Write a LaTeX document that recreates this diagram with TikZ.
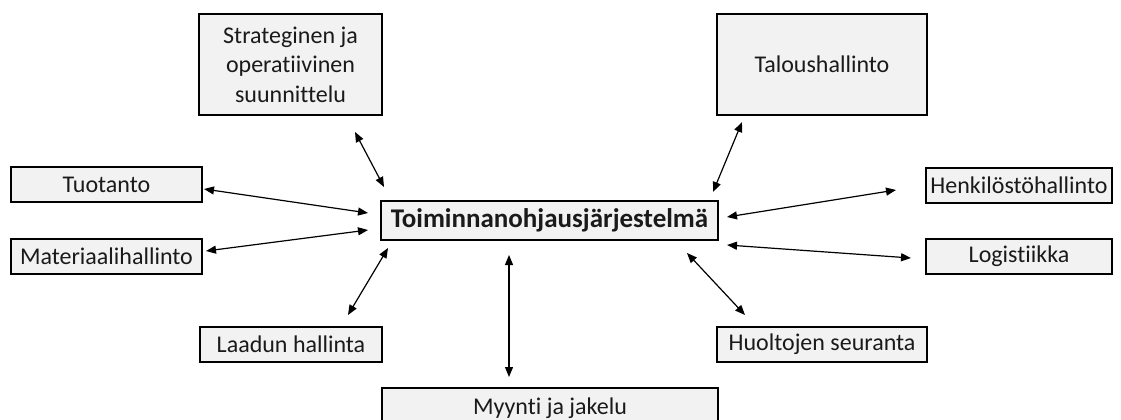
\documentclass[tikz,border=0pt]{standalone}
\usepackage{fontspec}
\setmainfont[Ligatures={NoCommon,NoContextual},Contextuals=NoAlternate]{Carlito}
\usetikzlibrary{arrows.meta}
\definecolor{boxfill}{HTML}{F2F2F2}
\definecolor{ink}{HTML}{1A1A1A}
\begin{document}
\begin{tikzpicture}[x=1pt,y=-1pt,
  box/.style={draw=black,line width=2pt,fill=boxfill,inner sep=0pt,
    font=\fontsize{24}{29.5}\selectfont,text=ink,align=center},
  link/.style={line width=1.2pt,{Triangle[length=10pt,width=8pt]}-{Triangle[length=10pt,width=8pt]}}]
\useasboundingbox (0,0) rectangle (1121,420);

% boxes
\node[box,minimum width=183,minimum height=101] (strat) at (290.5,64.5) {Strateginen ja\\operatiivinen\\suunnittelu};
\node[box,minimum width=210,minimum height=101] (talous) at (822,64.5) {Taloushallinto};
\node[box,minimum width=191,minimum height=35] (tuot) at (106.5,184.5) {Tuotanto};
\node[box,minimum width=191,minimum height=35] (mat) at (106.5,256.5) {Materiaalihallinto};
\node[box,minimum width=186,minimum height=35] (henk) at (1019,185) {Henkilöstöhallinto};
\node[box,minimum width=186,minimum height=35] (log) at (1019,256.5) {Logistiikka};
\node[box,minimum width=182,minimum height=35] (laad) at (291,344.5) {Laadun hallinta};
\node[box,minimum width=210,minimum height=35] (huol) at (822,344.5) {Huoltojen seuranta};
\node[box,minimum width=336,minimum height=40] (myyn) at (550,408) {Myynti ja jakelu};
\node[box,minimum width=337,minimum height=39,font=\fontsize{27}{32}\selectfont\bfseries] (ohj) at (549.5,220.5) {Toiminnanohjausjärjestelmä};

% connector end points
\coordinate (strat-e) at (355,132);   \coordinate (ohj-s) at (384,187);
\coordinate (talous-e) at (742,122);  \coordinate (ohj-t) at (713,192);
\coordinate (tuot-e) at (204,189);    \coordinate (ohj-tu) at (368,213);
\coordinate (mat-e) at (206,251);     \coordinate (ohj-m) at (368,230);
\coordinate (henk-e) at (896,190);    \coordinate (ohj-h) at (727,217);
\coordinate (log-e) at (911,258);     \coordinate (ohj-l) at (727,245);
\coordinate (laad-e) at (348,315);    \coordinate (ohj-la) at (388,248);
\coordinate (myyn-e) at (509,377);    \coordinate (ohj-my) at (509,255);
\coordinate (huol-e) at (745,315);    \coordinate (ohj-hu) at (687,253);

% connectors
\draw[link] (strat-e) -- (ohj-s);
\draw[link] (talous-e) -- (ohj-t);
\draw[link] (tuot-e) -- (ohj-tu);
\draw[link] (mat-e) -- (ohj-m);
\draw[link] (henk-e) -- (ohj-h);
\draw[link] (log-e) -- (ohj-l);
\draw[link] (laad-e) -- (ohj-la);
\draw[link] (myyn-e) -- (ohj-my);
\draw[link] (huol-e) -- (ohj-hu);
\end{tikzpicture}
\end{document}
